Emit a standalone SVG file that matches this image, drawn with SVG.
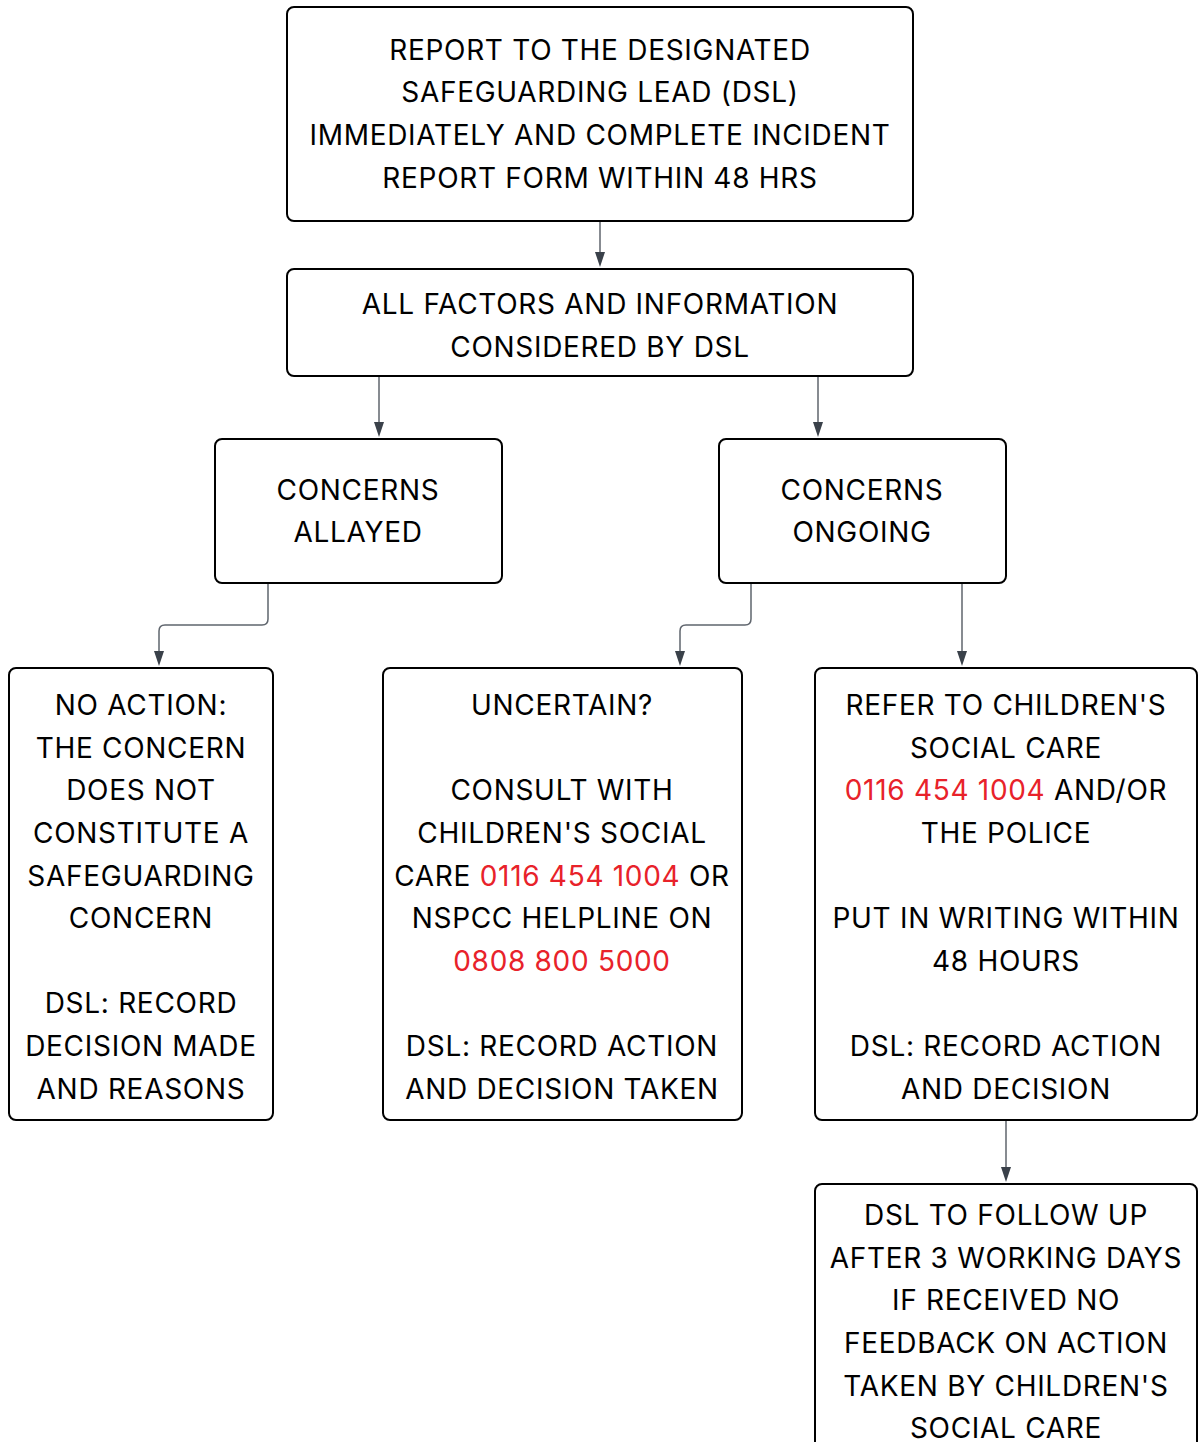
<svg xmlns="http://www.w3.org/2000/svg" width="1198" height="1442" viewBox="0 0 1198 1442">
<style>
.box{fill:#fff;stroke:#000;stroke-width:2}
.t{font-family:Inter,"Liberation Sans",sans-serif;font-size:28px;letter-spacing:0.7px;fill:#000;text-anchor:middle}
.r{fill:#e8222a}
.c{fill:none;stroke:#5f656d;stroke-width:1.5}
.h{fill:#3a414a}
</style>
<rect width="1198" height="1442" fill="#fff"/>
<g id="connectors">
<path class="c" d="M600,222 V254"/>
<path class="h" d="M595,252 H605 L600,267 Z"/>
<path class="c" d="M379,377 V424"/>
<path class="h" d="M374,422 H384 L379,437 Z"/>
<path class="c" d="M818,377 V424"/>
<path class="h" d="M813,422 H823 L818,437 Z"/>
<path class="c" d="M268,584 V619 Q268,625 262,625 H165 Q159,625 159,631 V653"/>
<path class="h" d="M154,651 H164 L159,666 Z"/>
<path class="c" d="M751,584 V619 Q751,625 745,625 H686 Q680,625 680,631 V653"/>
<path class="h" d="M675,651 H685 L680,666 Z"/>
<path class="c" d="M962,584 V653"/>
<path class="h" d="M957,651 H967 L962,666 Z"/>
<path class="c" d="M1006,1121 V1169"/>
<path class="h" d="M1001,1167 H1011 L1006,1182 Z"/>
</g>
<g id="n1">
<rect class="box" x="287" y="7" width="626" height="214" rx="7"/>
<text class="t" x="600" y="60">REPORT TO THE DESIGNATED</text>
<text class="t" x="600" y="102">SAFEGUARDING LEAD (DSL)</text>
<text class="t" x="600" y="145">IMMEDIATELY AND COMPLETE INCIDENT</text>
<text class="t" x="600" y="188">REPORT FORM WITHIN 48 HRS</text>
</g>
<g id="n2">
<rect class="box" x="287" y="269" width="626" height="107" rx="7"/>
<text class="t" x="600" y="314">ALL FACTORS AND INFORMATION</text>
<text class="t" x="600" y="357">CONSIDERED BY DSL</text>
</g>
<g id="n3">
<rect class="box" x="215" y="439" width="287" height="144" rx="7"/>
<text class="t" x="358" y="500">CONCERNS</text>
<text class="t" x="358" y="542">ALLAYED</text>
</g>
<g id="n4">
<rect class="box" x="719" y="439" width="287" height="144" rx="7"/>
<text class="t" x="862" y="500">CONCERNS</text>
<text class="t" x="862" y="542">ONGOING</text>
</g>
<g id="n5">
<rect class="box" x="9" y="668" width="264" height="452" rx="7"/>
<text class="t" x="141" y="715">NO ACTION:</text>
<text class="t" x="141" y="758">THE CONCERN</text>
<text class="t" x="141" y="800">DOES NOT</text>
<text class="t" x="141" y="843">CONSTITUTE A</text>
<text class="t" x="141" y="886">SAFEGUARDING</text>
<text class="t" x="141" y="928">CONCERN</text>
<text class="t" x="141" y="1013">DSL: RECORD</text>
<text class="t" x="141" y="1056">DECISION MADE</text>
<text class="t" x="141" y="1099">AND REASONS</text>
</g>
<g id="n6">
<rect class="box" x="383" y="668" width="359" height="452" rx="7"/>
<text class="t" x="562" y="715">UNCERTAIN?</text>
<text class="t" x="562" y="800">CONSULT WITH</text>
<text class="t" x="562" y="843">CHILDREN'S SOCIAL</text>
<text class="t" x="562" y="886">CARE <tspan class="r">0116 454 1004</tspan> OR</text>
<text class="t" x="562" y="928">NSPCC HELPLINE ON</text>
<text class="t r" x="562" y="971">0808 800 5000</text>
<text class="t" x="562" y="1056">DSL: RECORD ACTION</text>
<text class="t" x="562" y="1099">AND DECISION TAKEN</text>
</g>
<g id="n7">
<rect class="box" x="815" y="668" width="382" height="452" rx="7"/>
<text class="t" x="1006" y="715">REFER TO CHILDREN'S</text>
<text class="t" x="1006" y="758">SOCIAL CARE</text>
<text class="t" x="1006" y="800"><tspan class="r">0116 454 1004</tspan> AND/OR</text>
<text class="t" x="1006" y="843">THE POLICE</text>
<text class="t" x="1006" y="928">PUT IN WRITING WITHIN</text>
<text class="t" x="1006" y="971">48 HOURS</text>
<text class="t" x="1006" y="1056">DSL: RECORD ACTION</text>
<text class="t" x="1006" y="1099">AND DECISION</text>
</g>
<g id="n8">
<rect class="box" x="815" y="1184" width="382" height="300" rx="7"/>
<text class="t" x="1006" y="1225">DSL TO FOLLOW UP</text>
<text class="t" x="1006" y="1268">AFTER 3 WORKING DAYS</text>
<text class="t" x="1006" y="1310">IF RECEIVED NO</text>
<text class="t" x="1006" y="1353">FEEDBACK ON ACTION</text>
<text class="t" x="1006" y="1396">TAKEN BY CHILDREN'S</text>
<text class="t" x="1006" y="1438">SOCIAL CARE</text>
</g>
</svg>
